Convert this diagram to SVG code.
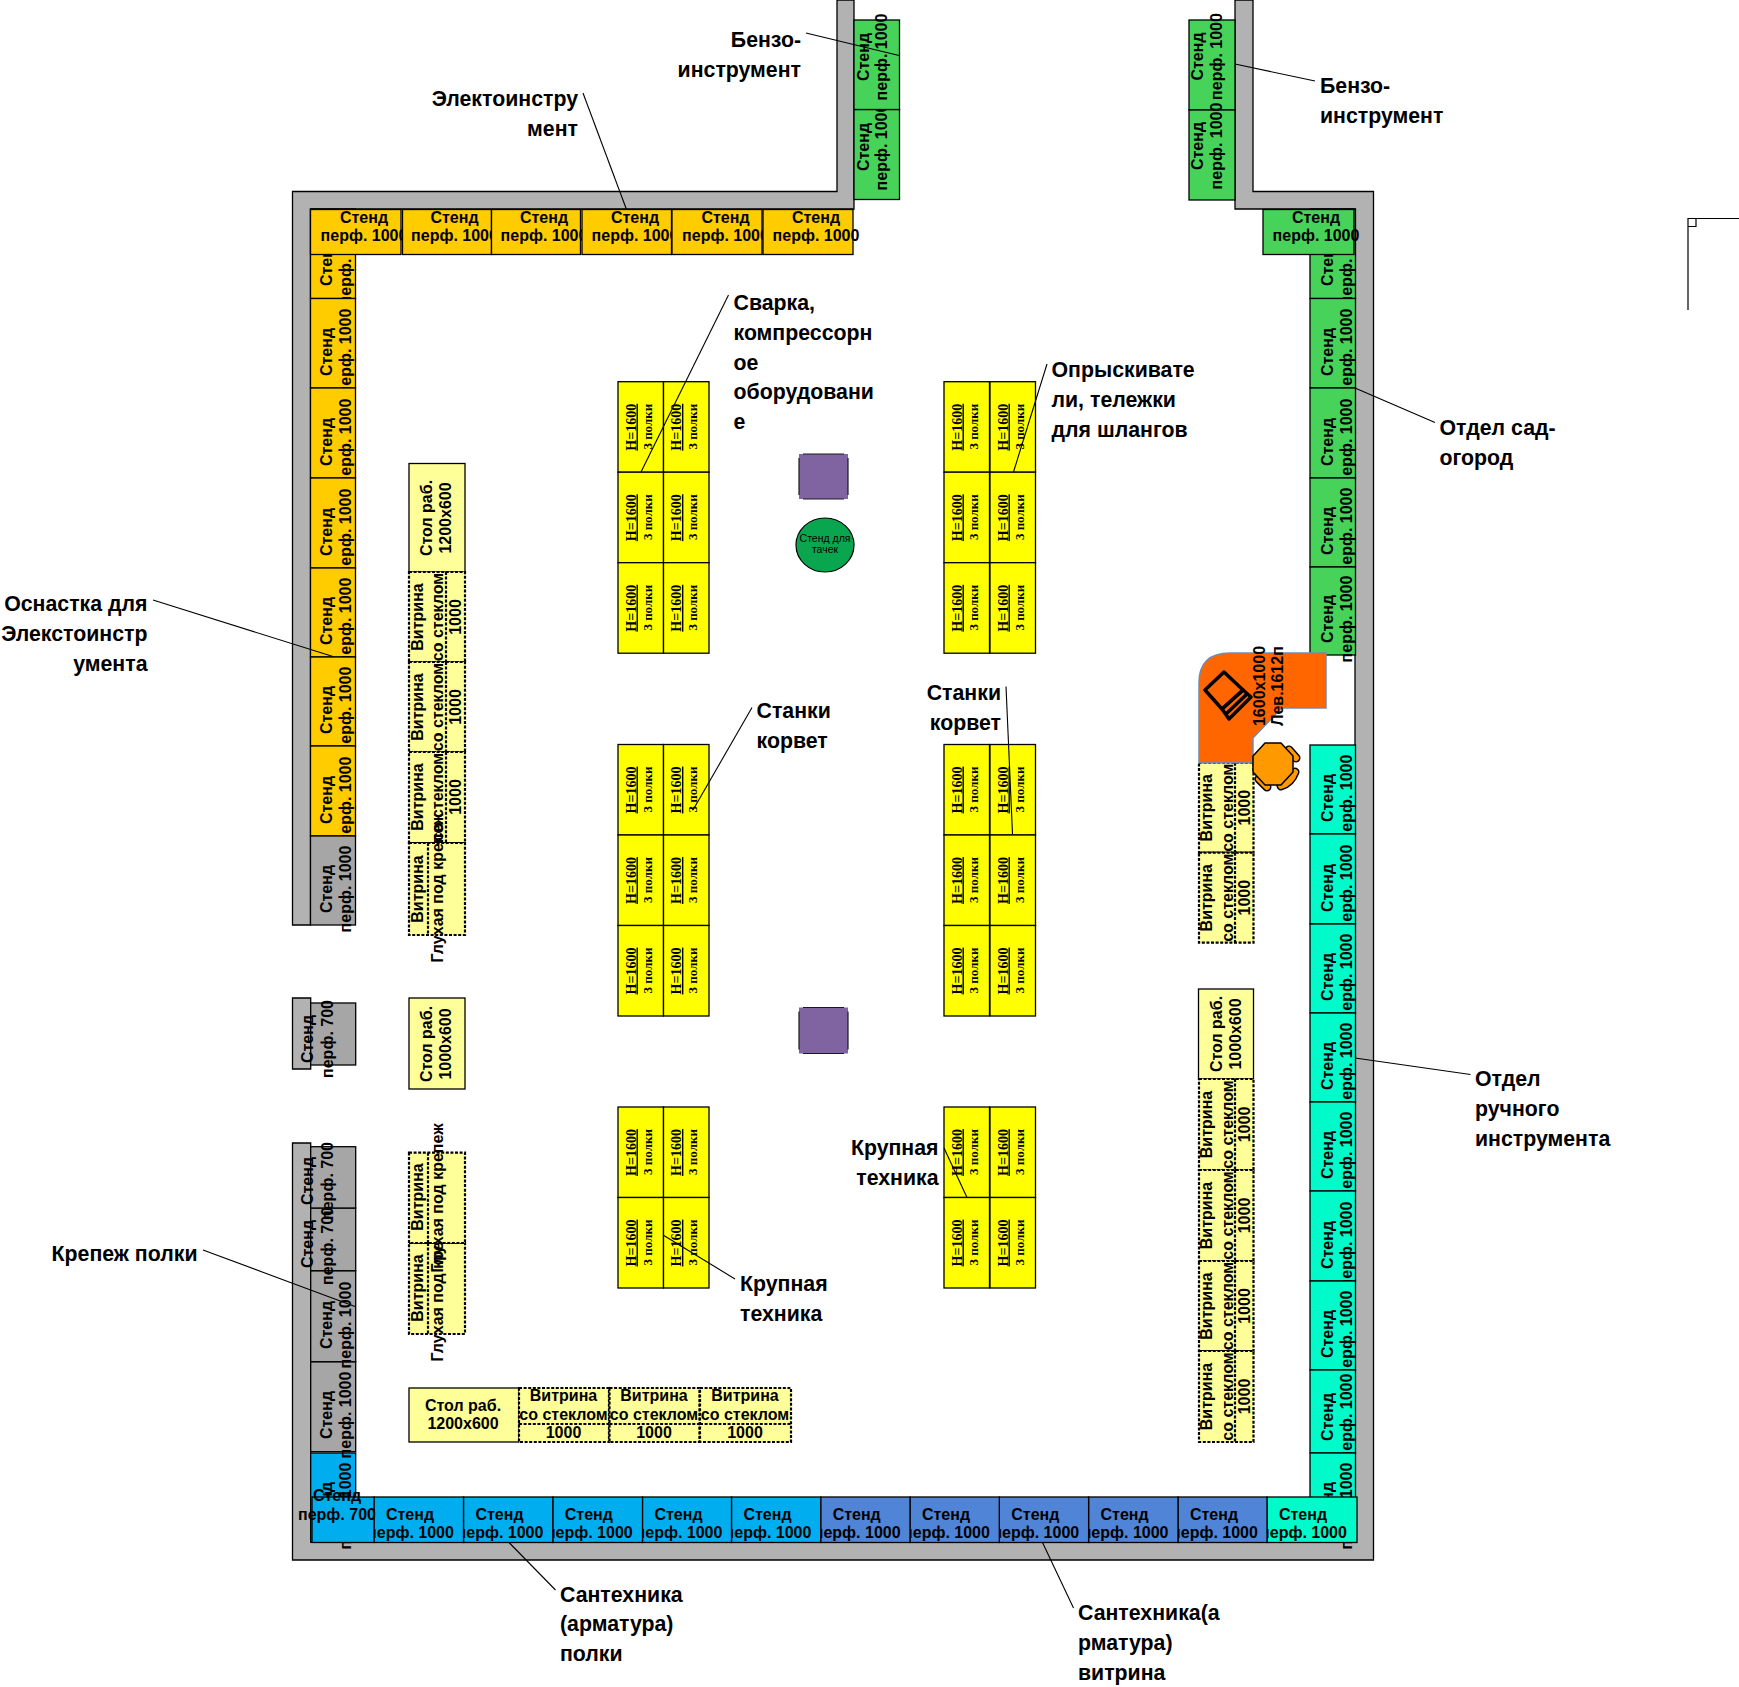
<svg xmlns="http://www.w3.org/2000/svg" width="1739" height="1687" viewBox="0 0 1739 1687">
<style>
text{font-family:"Liberation Sans",Arial,sans-serif;font-weight:bold;font-size:16px;fill:#000;text-anchor:middle}
.l{font-size:21.300px}.e{text-anchor:end}.s{text-anchor:start}
text.h{font-family:"Liberation Serif","Times New Roman",serif;font-size:13px}
text.u{font-family:"Liberation Serif","Times New Roman",serif;font-size:14px;text-decoration:underline}
rect,.w{stroke:#000;stroke-width:1.3}
.w{fill:#b2b2b2}
.o{fill:#ffcc00}.g{fill:#47d359}.t{fill:#00faca}.a{fill:#a6a6a6}.b{fill:#00aeef}.d{fill:#5084d6}
.c{fill:#ffff99}.v{fill:#ffff99;stroke-dasharray:3 1.600;stroke-width:2.200}.i{fill:none;stroke:#000;stroke-width:2.200;stroke-dasharray:3 1.600}
.ye{fill:#ffff00}
.p{fill:#8064a2;stroke:none}.q{fill:none;stroke:#1a1a1a;stroke-width:1.200}
#connectors line{stroke:#000;stroke-width:1.1}
</style>
<g id="walls">
<path class="w" d="M292.500 925V191.500H837V0H854V209H310.500V925Z"/>
<path class="w" d="M292.500 998H310.700V1069H292.500Z"/>
<path class="w" d="M1235 0H1253V191.500H1373.500V1560H292.500V1143H310.700V1542H1355V209H1235Z"/>
<path d="M1688 310V218.500H1739M1688 226.500H1696V218.500" fill="none" stroke="#000" stroke-width="1.200"/>
</g>

<g id="left-column">
<g id="sl0"><rect class="o" x="310.500" y="209" width="45" height="89.500"/><g transform="translate(332 262) rotate(-90)"><text>Стенд</text></g><g transform="translate(351 262) rotate(-90)"><text>перф. 1000</text></g></g>
<g id="sl1"><rect class="o" x="310.500" y="298.500" width="45" height="89.500"/><g transform="translate(332 352) rotate(-90)"><text>Стенд</text></g><g transform="translate(351 352) rotate(-90)"><text>перф. 1000</text></g></g>
<g id="sl2"><rect class="o" x="310.500" y="388" width="45" height="90"/><g transform="translate(332 442) rotate(-90)"><text>Стенд</text></g><g transform="translate(351 442) rotate(-90)"><text>перф. 1000</text></g></g>
<g id="sl3"><rect class="o" x="310.500" y="478" width="45" height="90"/><g transform="translate(332 532) rotate(-90)"><text>Стенд</text></g><g transform="translate(351 532) rotate(-90)"><text>перф. 1000</text></g></g>
<g id="sl4"><rect class="o" x="310.500" y="568" width="45" height="89"/><g transform="translate(332 621) rotate(-90)"><text>Стенд</text></g><g transform="translate(351 621) rotate(-90)"><text>перф. 1000</text></g></g>
<g id="sl5"><rect class="o" x="310.500" y="657" width="45" height="89"/><g transform="translate(332 710) rotate(-90)"><text>Стенд</text></g><g transform="translate(351 710) rotate(-90)"><text>перф. 1000</text></g></g>
<g id="sl6"><rect class="o" x="310.500" y="746" width="45" height="90"/><g transform="translate(332 800) rotate(-90)"><text>Стенд</text></g><g transform="translate(351 800) rotate(-90)"><text>перф. 1000</text></g></g>
<g id="sl7"><rect class="a" x="310.500" y="836" width="45" height="89"/><g transform="translate(332 889) rotate(-90)"><text>Стенд</text></g><g transform="translate(351 889) rotate(-90)"><text>перф. 1000</text></g></g>
</g>

<g id="top-row">
<g id="st1"><rect class="o" x="310.500" y="209.500" width="90.500" height="45"/><text x="364" y="222.500">Стенд</text><text x="364" y="241">перф. 1000</text></g>
<g id="st2"><rect class="o" x="402.500" y="209.500" width="89" height="45"/><text x="454.500" y="222.500">Стенд</text><text x="454.500" y="241">перф. 1000</text></g>
<g id="st3"><rect class="o" x="491.500" y="209.500" width="89" height="45"/><text x="544" y="222.500">Стенд</text><text x="544" y="241">перф. 1000</text></g>
<g id="st4"><rect class="o" x="582" y="209.500" width="89.500" height="45"/><text x="635" y="222.500">Стенд</text><text x="635" y="241">перф. 1000</text></g>
<g id="st5"><rect class="o" x="672" y="209.500" width="90" height="45"/><text x="725.500" y="222.500">Стенд</text><text x="725.500" y="241">перф. 1000</text></g>
<g id="st6"><rect class="o" x="763" y="209.500" width="90" height="45"/><text x="816" y="222.500">Стенд</text><text x="816" y="241">перф. 1000</text></g>
</g>

<g id="top-left-stands">
<g id="sb2"><rect class="g" x="854" y="109.500" width="45.500" height="90"/><g transform="translate(869 147) rotate(-90)"><text>Стенд</text></g><g transform="translate(887 147) rotate(-90)"><text>перф. 1000</text></g></g>
<g id="sb1"><rect class="g" x="854" y="20" width="45.500" height="89.500"/><g transform="translate(869 57) rotate(-90)"><text>Стенд</text></g><g transform="translate(887 57) rotate(-90)"><text>перф. 1000</text></g></g>
</g>
<g id="top-right-stands">
<g id="sc1"><rect class="g" x="1189" y="20" width="46" height="90"/><g transform="translate(1203 56.500) rotate(-90)"><text>Стенд</text></g><g transform="translate(1221.500 56.500) rotate(-90)"><text>перф. 1000</text></g></g>
<g id="sc2"><rect class="g" x="1189" y="110" width="46" height="90"/><g transform="translate(1203 146) rotate(-90)"><text>Стенд</text></g><g transform="translate(1221.500 146) rotate(-90)"><text>перф. 1000</text></g></g>
</g>

<g id="right-green">
<g id="sg0"><rect class="g" x="1310" y="209" width="45.500" height="89.500"/><g transform="translate(1333 262) rotate(-90)"><text>Стенд</text></g><g transform="translate(1352 262) rotate(-90)"><text>перф. 1000</text></g></g>
<g id="sg1"><rect class="g" x="1310" y="298.500" width="45.500" height="89.500"/><g transform="translate(1333 352) rotate(-90)"><text>Стенд</text></g><g transform="translate(1352 352) rotate(-90)"><text>перф. 1000</text></g></g>
<g id="sg2"><rect class="g" x="1310" y="388" width="45.500" height="90"/><g transform="translate(1333 442) rotate(-90)"><text>Стенд</text></g><g transform="translate(1352 442) rotate(-90)"><text>перф. 1000</text></g></g>
<g id="sg3"><rect class="g" x="1310" y="478" width="45.500" height="89"/><g transform="translate(1333 531) rotate(-90)"><text>Стенд</text></g><g transform="translate(1352 531) rotate(-90)"><text>перф. 1000</text></g></g>
<g id="sg4"><rect class="g" x="1310" y="567" width="45.500" height="88"/><g transform="translate(1333 619) rotate(-90)"><text>Стенд</text></g><g transform="translate(1352 619) rotate(-90)"><text>перф. 1000</text></g></g>
<g id="sg5"><rect class="g" x="1263" y="209.500" width="91" height="45"/><text x="1316" y="222.500">Стенд</text><text x="1316" y="241">перф. 1000</text></g>
</g>

<g id="right-teal">
<g id="sr1"><rect class="t" x="1310" y="745" width="45.500" height="89"/><g transform="translate(1333 798) rotate(-90)"><text>Стенд</text></g><g transform="translate(1352 798) rotate(-90)"><text>перф. 1000</text></g></g>
<g id="sr2"><rect class="t" x="1310" y="834" width="45.500" height="90"/><g transform="translate(1333 888) rotate(-90)"><text>Стенд</text></g><g transform="translate(1352 888) rotate(-90)"><text>перф. 1000</text></g></g>
<g id="sr3"><rect class="t" x="1310" y="924" width="45.500" height="89"/><g transform="translate(1333 977) rotate(-90)"><text>Стенд</text></g><g transform="translate(1352 977) rotate(-90)"><text>перф. 1000</text></g></g>
<g id="sr4"><rect class="t" x="1310" y="1013" width="45.500" height="89"/><g transform="translate(1333 1066) rotate(-90)"><text>Стенд</text></g><g transform="translate(1352 1066) rotate(-90)"><text>перф. 1000</text></g></g>
<g id="sr5"><rect class="t" x="1310" y="1102" width="45.500" height="89"/><g transform="translate(1333 1155) rotate(-90)"><text>Стенд</text></g><g transform="translate(1352 1155) rotate(-90)"><text>перф. 1000</text></g></g>
<g id="sr6"><rect class="t" x="1310" y="1191" width="45.500" height="90"/><g transform="translate(1333 1245) rotate(-90)"><text>Стенд</text></g><g transform="translate(1352 1245) rotate(-90)"><text>перф. 1000</text></g></g>
<g id="sr7"><rect class="t" x="1310" y="1281" width="45.500" height="89"/><g transform="translate(1333 1334) rotate(-90)"><text>Стенд</text></g><g transform="translate(1352 1334) rotate(-90)"><text>перф. 1000</text></g></g>
<g id="sr8"><rect class="t" x="1310" y="1370" width="45.500" height="83"/><g transform="translate(1333 1417) rotate(-90)"><text>Стенд</text></g><g transform="translate(1352 1417) rotate(-90)"><text>перф. 1000</text></g></g>
<g id="sr9"><rect class="t" x="1310" y="1453" width="45.500" height="89"/><g transform="translate(1333 1506) rotate(-90)"><text>Стенд</text></g><g transform="translate(1352 1506) rotate(-90)"><text>перф. 1000</text></g></g>
</g>

<g id="left-lower">
<g id="sm0"><rect class="a" x="310.700" y="1003" width="45" height="62"/><g transform="translate(313 1039) rotate(-90)"><text>Стенд</text></g><g transform="translate(333 1039) rotate(-90)"><text>перф. 700</text></g></g>
<g id="sm5"><rect class="b" x="310.700" y="1453" width="45" height="89"/><g transform="translate(332 1506) rotate(-90)"><text>Стенд</text></g><g transform="translate(351 1506) rotate(-90)"><text>перф. 1000</text></g></g>
<g id="sm4"><rect class="a" x="310.700" y="1361.700" width="45" height="90"/><g transform="translate(332 1415) rotate(-90)"><text>Стенд</text></g><g transform="translate(351 1415) rotate(-90)"><text>перф. 1000</text></g></g>
<g id="sm3"><rect class="a" x="310.700" y="1270.700" width="45" height="91"/><g transform="translate(332 1325) rotate(-90)"><text>Стенд</text></g><g transform="translate(351 1325) rotate(-90)"><text>перф. 1000</text></g></g>
<g id="sm2"><rect class="a" x="310.700" y="1208" width="45" height="62.700"/><g transform="translate(313 1244) rotate(-90)"><text>Стенд</text></g><g transform="translate(333 1246) rotate(-90)"><text>перф. 700</text></g></g>
<g id="sm1"><rect class="a" x="310.700" y="1146.700" width="45" height="61.300"/><g transform="translate(313 1181) rotate(-90)"><text>Стенд</text></g><g transform="translate(333 1181) rotate(-90)"><text>перф. 700</text></g></g>
</g>

<g id="bottom-row">
<g id="sd11"><rect class="t" x="1267" y="1497" width="90" height="45.500"/><text x="1303" y="1519.500">Стенд</text><text x="1303.500" y="1538">перф. 1000</text></g>
<g id="sd10"><rect class="d" x="1178" y="1497" width="89" height="45.500"/><text x="1214" y="1519.500">Стенд</text><text x="1214.500" y="1538">перф. 1000</text></g>
<g id="sd9"><rect class="d" x="1088.600" y="1497" width="89.400" height="45.500"/><text x="1124.600" y="1519.500">Стенд</text><text x="1125.100" y="1538">перф. 1000</text></g>
<g id="sd8"><rect class="d" x="999.300" y="1497" width="89.300" height="45.500"/><text x="1035.300" y="1519.500">Стенд</text><text x="1035.800" y="1538">перф. 1000</text></g>
<g id="sd7"><rect class="d" x="910" y="1497" width="89.300" height="45.500"/><text x="946" y="1519.500">Стенд</text><text x="946.500" y="1538">перф. 1000</text></g>
<g id="sd6"><rect class="d" x="820.700" y="1497" width="89.300" height="45.500"/><text x="856.700" y="1519.500">Стенд</text><text x="857.200" y="1538">перф. 1000</text></g>
<g id="sd5"><rect class="b" x="731.500" y="1497" width="89.200" height="45.500"/><text x="767.500" y="1519.500">Стенд</text><text x="768" y="1538">перф. 1000</text></g>
<g id="sd4"><rect class="b" x="642.500" y="1497" width="89" height="45.500"/><text x="678.500" y="1519.500">Стенд</text><text x="679" y="1538">перф. 1000</text></g>
<g id="sd3"><rect class="b" x="552.800" y="1497" width="89.700" height="45.500"/><text x="588.800" y="1519.500">Стенд</text><text x="589.300" y="1538">перф. 1000</text></g>
<g id="sd2"><rect class="b" x="463.500" y="1497" width="89.300" height="45.500"/><text x="499.500" y="1519.500">Стенд</text><text x="500" y="1538">перф. 1000</text></g>
<g id="sd1"><rect class="b" x="374" y="1497" width="89.500" height="45.500"/><text x="410" y="1519.500">Стенд</text><text x="410.500" y="1538">перф. 1000</text></g>
<g id="sd0"><rect class="b" x="312" y="1497" width="62" height="45.500"/><text x="337" y="1501">Стенд</text><text x="337" y="1519.500">перф. 700</text></g>
</g>

<g id="vitrines-left">
<g id="table-l1"><rect class="c" x="409" y="463.500" width="56" height="108.500"/><g transform="translate(432 518) rotate(-90)"><text>Стол раб.</text></g><g transform="translate(451 518) rotate(-90)"><text>1200х600</text></g></g>
<g id="vl1"><rect class="v" x="409" y="572" width="56" height="90"/><line class="i" x1="446" y1="572" x2="446" y2="662"/><g transform="translate(423 617) rotate(-90)"><text>Витрина</text></g><g transform="translate(443 617) rotate(-90)"><text>со стеклом</text></g><g transform="translate(461 617) rotate(-90)"><text>1000</text></g></g>
<g id="vl2"><rect class="v" x="409" y="662" width="56" height="90"/><line class="i" x1="446" y1="662" x2="446" y2="752"/><g transform="translate(423 707) rotate(-90)"><text>Витрина</text></g><g transform="translate(443 707) rotate(-90)"><text>со стеклом</text></g><g transform="translate(461 707) rotate(-90)"><text>1000</text></g></g>
<g id="vl3"><rect class="v" x="409" y="752" width="56" height="91"/><line class="i" x1="446" y1="752" x2="446" y2="843"/><g transform="translate(423 797) rotate(-90)"><text>Витрина</text></g><g transform="translate(443 797) rotate(-90)"><text>со стеклом</text></g><g transform="translate(461 797) rotate(-90)"><text>1000</text></g></g>
<g id="vl4"><rect class="v" x="409" y="843" width="56" height="92"/><line class="i" x1="428" y1="843" x2="428" y2="935"/><g transform="translate(423 889) rotate(-90)"><text>Витрина</text></g><g transform="translate(443 888) rotate(-90)"><text>Глухая под крепеж</text></g></g>
<g id="table-l2"><rect class="c" x="409" y="998" width="56" height="91"/><g transform="translate(432 1044) rotate(-90)"><text>Стол раб.</text></g><g transform="translate(451 1044) rotate(-90)"><text>1000х600</text></g></g>
<g id="vl6"><rect class="v" x="409" y="1243" width="56" height="91"/><line class="i" x1="428" y1="1243" x2="428" y2="1334"/><g transform="translate(423 1288) rotate(-90)"><text>Витрина</text></g><g transform="translate(443 1287) rotate(-90)"><text>Глухая под крепеж</text></g></g>
<g id="vl5"><rect class="v" x="409" y="1152.700" width="56" height="90.300"/><line class="i" x1="428" y1="1152.700" x2="428" y2="1243"/><g transform="translate(423 1197) rotate(-90)"><text>Витрина</text></g><g transform="translate(443 1198) rotate(-90)"><text>Глухая под крепеж</text></g></g>
</g>

<g id="vitrines-bottom">
<g id="table-b"><rect class="c" x="409" y="1388" width="110" height="54"/><text x="463" y="1410.500">Стол раб.</text><text x="463" y="1429">1200х600</text></g>
<g id="vb1"><rect class="v" x="519" y="1388" width="90" height="54"/><line class="i" x1="519" y1="1424" x2="609" y2="1424"/><text x="563.500" y="1400.500">Витрина</text><text x="563.500" y="1420">со стеклом</text><text x="563.500" y="1438">1000</text></g>
<g id="vb2"><rect class="v" x="609.500" y="1388" width="90" height="54"/><line class="i" x1="609.500" y1="1424" x2="699.500" y2="1424"/><text x="654" y="1400.500">Витрина</text><text x="654" y="1420">со стеклом</text><text x="654" y="1438">1000</text></g>
<g id="vb3"><rect class="v" x="700" y="1388" width="91" height="54"/><line class="i" x1="700" y1="1424" x2="791" y2="1424"/><text x="745" y="1400.500">Витрина</text><text x="745" y="1420">со стеклом</text><text x="745" y="1438">1000</text></g>
</g>

<g id="vitrines-right">
<g id="vr1"><rect class="v" x="1199" y="762.700" width="54.500" height="90"/><line class="i" x1="1235" y1="762.700" x2="1235" y2="852.700"/><g transform="translate(1212 807.700) rotate(-90)"><text>Витрина</text></g><g transform="translate(1233 807.700) rotate(-90)"><text>со стеклом</text></g><g transform="translate(1250 807.700) rotate(-90)"><text>1000</text></g></g>
<g id="vr2"><rect class="v" x="1199" y="852.700" width="54.500" height="90"/><line class="i" x1="1235" y1="852.700" x2="1235" y2="942.700"/><g transform="translate(1212 897.700) rotate(-90)"><text>Витрина</text></g><g transform="translate(1233 897.700) rotate(-90)"><text>со стеклом</text></g><g transform="translate(1250 897.700) rotate(-90)"><text>1000</text></g></g>
<g id="table-r"><rect class="c" x="1198.500" y="989" width="55" height="90"/><g transform="translate(1222 1034) rotate(-90)"><text>Стол раб.</text></g><g transform="translate(1241 1034) rotate(-90)"><text>1000х600</text></g></g>
<g id="vr3"><rect class="v" x="1199" y="1079" width="54.500" height="91"/><line class="i" x1="1235" y1="1079" x2="1235" y2="1170"/><g transform="translate(1212 1124.500) rotate(-90)"><text>Витрина</text></g><g transform="translate(1233 1124.500) rotate(-90)"><text>со стеклом</text></g><g transform="translate(1250 1124.500) rotate(-90)"><text>1000</text></g></g>
<g id="vr4"><rect class="v" x="1199" y="1170" width="54.500" height="91"/><line class="i" x1="1235" y1="1170" x2="1235" y2="1261"/><g transform="translate(1212 1215.500) rotate(-90)"><text>Витрина</text></g><g transform="translate(1233 1215.500) rotate(-90)"><text>со стеклом</text></g><g transform="translate(1250 1215.500) rotate(-90)"><text>1000</text></g></g>
<g id="vr5"><rect class="v" x="1199" y="1261" width="54.500" height="90"/><line class="i" x1="1235" y1="1261" x2="1235" y2="1351"/><g transform="translate(1212 1306) rotate(-90)"><text>Витрина</text></g><g transform="translate(1233 1306) rotate(-90)"><text>со стеклом</text></g><g transform="translate(1250 1306) rotate(-90)"><text>1000</text></g></g>
<g id="vr6"><rect class="v" x="1199" y="1351" width="54.500" height="91"/><line class="i" x1="1235" y1="1351" x2="1235" y2="1442"/><g transform="translate(1212 1396.500) rotate(-90)"><text>Витрина</text></g><g transform="translate(1233 1396.500) rotate(-90)"><text>со стеклом</text></g><g transform="translate(1250 1396.500) rotate(-90)"><text>1000</text></g></g>
</g>

<defs>
<g id="shelf">
<rect class="ye" width="45.500" height="90.500"/>
<g transform="translate(17.500 45.500) rotate(-90)"><text class="u">Н=1600</text></g>
<g transform="translate(33.500 45) rotate(-90)"><text class="h">3 полки</text></g>
</g>
</defs>
<g id="block-a"><use href="#shelf" x="618" y="381.700"/><use href="#shelf" x="663.500" y="381.700"/><use href="#shelf" x="618" y="472.200"/><use href="#shelf" x="663.500" y="472.200"/><use href="#shelf" x="618" y="562.700"/><use href="#shelf" x="663.500" y="562.700"/></g>
<g id="block-b"><use href="#shelf" x="944" y="381.700"/><use href="#shelf" x="990" y="381.700"/><use href="#shelf" x="944" y="472.200"/><use href="#shelf" x="990" y="472.200"/><use href="#shelf" x="944" y="562.700"/><use href="#shelf" x="990" y="562.700"/></g>
<g id="block-c"><use href="#shelf" x="618" y="744.500"/><use href="#shelf" x="663.500" y="744.500"/><use href="#shelf" x="618" y="835"/><use href="#shelf" x="663.500" y="835"/><use href="#shelf" x="618" y="925.500"/><use href="#shelf" x="663.500" y="925.500"/></g>
<g id="block-d"><use href="#shelf" x="944" y="744.500"/><use href="#shelf" x="990" y="744.500"/><use href="#shelf" x="944" y="835"/><use href="#shelf" x="990" y="835"/><use href="#shelf" x="944" y="925.500"/><use href="#shelf" x="990" y="925.500"/></g>
<g id="block-e"><use href="#shelf" x="618" y="1107"/><use href="#shelf" x="663.500" y="1107"/><use href="#shelf" x="618" y="1197.500"/><use href="#shelf" x="663.500" y="1197.500"/></g>
<g id="block-f"><use href="#shelf" x="944" y="1107"/><use href="#shelf" x="990" y="1107"/><use href="#shelf" x="944" y="1197.500"/><use href="#shelf" x="990" y="1197.500"/></g>

<g id="square-1"><rect class="p" x="799" y="454" width="49" height="45"/><path class="q" d="M803 454H844M848 458V495M844 499H803M799 495V458"/></g>
<g id="square-2"><rect class="p" x="799" y="1007.500" width="49" height="46"/><path class="q" d="M803 1007.500H844M848 1011.500V1049.500M844 1053.500H803M799 1049.500V1011.500"/></g>
<g id="barrow-stand"><ellipse cx="825" cy="545" rx="29" ry="27" fill="#0aa64f" stroke="#000" stroke-width="1.200"/><text x="825" y="542" style="font-weight:normal;font-size:10.500px">Стенд для</text><text x="825" y="553" style="font-weight:normal;font-size:10.500px">тачек</text></g>

<g id="desk">
<path d="M1199 762.700V683Q1199 653 1230 653H1326V708H1281.700L1253 738V762.700Z" fill="#ff6600" stroke="#7689ad" stroke-width="1.500"/>
<g fill="none" stroke="#000" stroke-width="3.500" stroke-linejoin="round"><path d="M1205 690L1224 672L1243 690L1222 709Z"/><path d="M1222 709L1243 690L1251 697L1229 719Z"/><path d="M1226 714L1247 694"/></g>
<g transform="translate(1265 686) rotate(-90)"><text>1600х1000</text></g>
<g transform="translate(1283 686) rotate(-90)"><text>Лев.1612п</text></g>
</g>
<g id="chair">
<path d="M1289 750L1296 758M1259 779L1267 787M1281 786Q1291 783 1295 772" fill="none" stroke="#000" stroke-width="9" stroke-linecap="round"/>
<path d="M1289 750L1296 758M1259 779L1267 787M1281 786Q1291 783 1295 772" fill="none" stroke="#ff9900" stroke-width="6" stroke-linecap="round"/>
<path d="M1265 743H1281L1293 756V772L1281 785H1265L1253 772V756Z" fill="#ff9900" stroke="#000" stroke-width="1.500" stroke-linejoin="round"/>
</g>

<g id="labels" transform="translate(0 0.200)">
<g id="lb1"><text class="l e" x="801" y="47">Бензо-</text><text class="l e" x="801" y="77">инструмент</text></g>
<g id="lb2"><text class="l e" x="578" y="106">Электоинстру</text><text class="l e" x="578" y="136">мент</text></g>
<g id="lb3"><text class="l s" x="1320" y="93">Бензо-</text><text class="l s" x="1320" y="123">инструмент</text></g>
<g id="lb4"><text class="l s" x="733.500" y="309.500">Сварка,</text><text class="l s" x="733.500" y="339.500">компрессорн</text><text class="l s" x="733.500" y="369.500">ое</text><text class="l s" x="733.500" y="399">оборудовани</text><text class="l s" x="733.500" y="429">е</text></g>
<g id="lb5"><text class="l s" x="1051.500" y="377">Опрыскивате</text><text class="l s" x="1051.500" y="407">ли, тележки</text><text class="l s" x="1051.500" y="437">для шлангов</text></g>
<g id="lb6"><text class="l s" x="1439.500" y="434.500">Отдел сад-</text><text class="l s" x="1439.500" y="464.500">огород</text></g>
<g id="lb7"><text class="l e" x="147.500" y="611">Оснастка для</text><text class="l e" x="147.500" y="641">Элекстоинстр</text><text class="l e" x="147.500" y="671">умента</text></g>
<g id="lb8"><text class="l s" x="756.500" y="717.500">Станки</text><text class="l s" x="756.500" y="747.500">корвет</text></g>
<g id="lb9"><text class="l e" x="1001" y="700">Станки</text><text class="l e" x="1001" y="730">корвет</text></g>
<g id="lb10"><text class="l s" x="1475" y="1086">Отдел</text><text class="l s" x="1475" y="1116">ручного</text><text class="l s" x="1475" y="1146">инструмента</text></g>
<g id="lb11"><text class="l e" x="938.500" y="1154.500">Крупная</text><text class="l e" x="938.500" y="1184.500">техника</text></g>
<g id="lb12"><text class="l s" x="740" y="1291">Крупная</text><text class="l s" x="740" y="1321">техника</text></g>
<g id="lb13"><text class="l e" x="197.500" y="1261">Крепеж полки</text></g>
<g id="lb14"><text class="l s" x="560" y="1601.500">Сантехника</text><text class="l s" x="560" y="1631">(арматура)</text><text class="l s" x="560" y="1661">полки</text></g>
<g id="lb15"><text class="l s" x="1078" y="1620">Сантехника(а</text><text class="l s" x="1078" y="1650">рматура)</text><text class="l s" x="1078" y="1680">витрина</text></g>
</g>

<g id="connectors">
<line x1="806" y1="33" x2="899" y2="55.500"/>
<line x1="583" y1="93" x2="626.500" y2="209.500"/>
<line x1="728.500" y1="295" x2="641" y2="472"/>
<line x1="1047" y1="364" x2="1013.500" y2="472"/>
<line x1="1315" y1="81" x2="1235" y2="64"/>
<line x1="1435" y1="422.500" x2="1355" y2="388"/>
<line x1="153" y1="600" x2="333" y2="656.500"/>
<line x1="752" y1="707.500" x2="693" y2="810"/>
<line x1="1006" y1="686.500" x2="1012.500" y2="834"/>
<line x1="1470.500" y1="1074.500" x2="1355" y2="1058"/>
<line x1="944" y1="1148" x2="967" y2="1197.500"/>
<line x1="735" y1="1279" x2="663" y2="1235"/>
<line x1="203" y1="1250" x2="355" y2="1306.500"/>
<line x1="555.500" y1="1590" x2="509" y2="1542.500"/>
<line x1="1073.500" y1="1608" x2="1042.500" y2="1542.500"/>
</g>
</svg>
